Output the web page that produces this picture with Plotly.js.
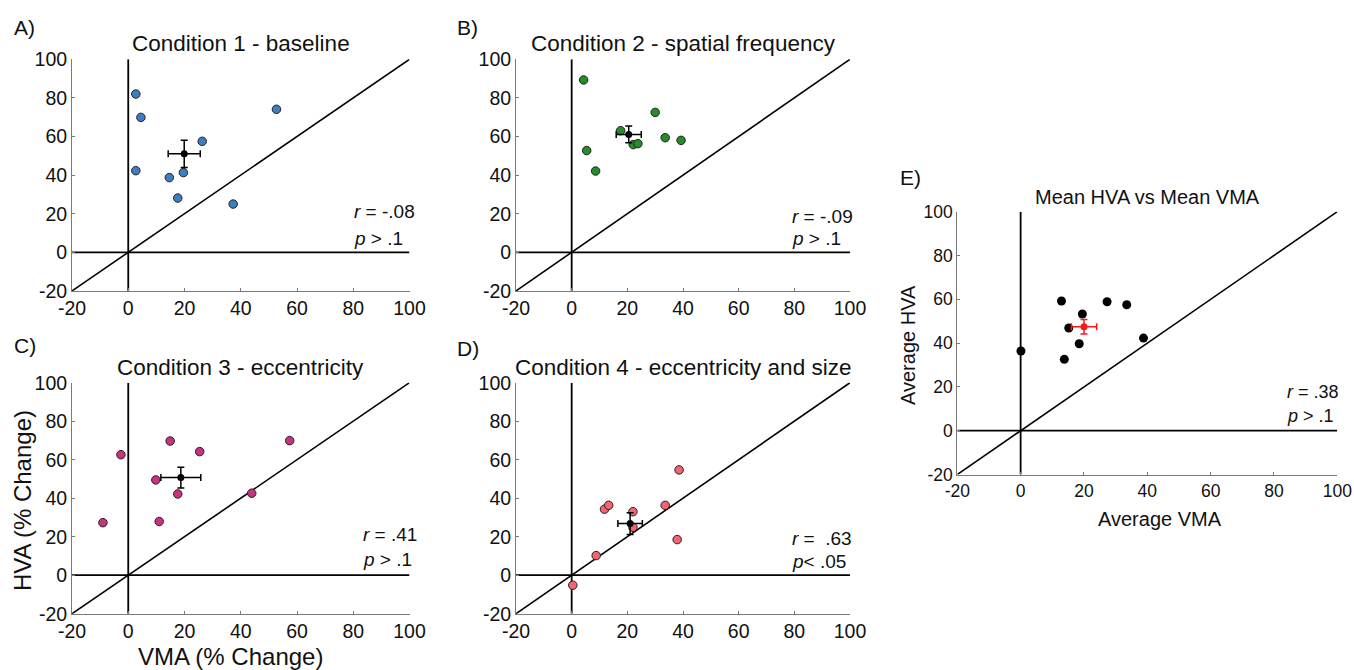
<!DOCTYPE html>
<html>
<head>
<meta charset="utf-8">
<script src="https://cdn.plot.ly/plotly-3.0.1.min.js"></script>
<style>html,body{margin:0;padding:0;background:#fff;}#chart{width:1354px;height:670px;}</style>
</head>
<body>
<div id="chart"></div>
<script>
// ---- Data ----
var tickVals = [-20, 0, 20, 40, 60, 80, 100];
var refLine = [-20, 100];
var zeroSpan = [0, 0];

// Condition 1 - baseline
var c1_vma = [2.7, 4.5, 2.7, 14.6, 17.6, 19.6, 26.3, 37.3, 52.7];
var c1_hva = [82.0, 69.9, 42.3, 38.7, 28.1, 41.3, 57.5, 25.0, 74.1];
var c1_mean = [19.9, 51.0];
var c1_err = [5.7, 7.0];

// Condition 2 - spatial frequency
var c2_vma = [4.3, 5.4, 8.6, 17.6, 22.1, 23.8, 30.0, 33.6, 39.3];
var c2_hva = [89.3, 52.7, 42.1, 63.0, 55.8, 56.3, 72.5, 59.4, 58.0];
var c2_mean = [20.5, 61.1];
var c2_err = [4.5, 4.4];

// Condition 3 - eccentricity
var c3_vma = [-9.0, -2.6, 9.8, 11.0, 14.9, 17.6, 25.4, 43.9, 57.4];
var c3_hva = [27.3, 62.6, 49.5, 27.9, 69.7, 42.2, 64.2, 42.6, 69.9];
var c3_mean = [18.7, 50.7];
var c3_err = [7.1, 5.4];

// Condition 4 - eccentricity and size
var c4_vma = [0.4, 8.8, 11.8, 13.3, 22.0, 22.0, 33.6, 37.9, 38.6];
var c4_hva = [-5.2, 10.2, 34.3, 36.3, 33.0, 24.9, 36.3, 18.5, 54.7];
var c4_mean = [21.0, 26.8];
var c4_err = [4.4, 5.7];

// Mean HVA vs Mean VMA
var e_vma = [0.1, 12.9, 13.8, 15.2, 18.5, 19.5, 27.3, 33.5, 38.8];
var e_hva = [36.4, 59.2, 32.6, 46.9, 39.7, 53.3, 58.9, 57.5, 42.3];
var e_mean = [20.0, 47.5];
var e_err = [4.0, 3.3];

var panelTitles = ["Condition 1 - baseline", "Condition 2 - spatial frequency",
  "Condition 3 - eccentricity", "Condition 4 - eccentricity and size", "Mean HVA vs Mean VMA"];
var panelLetters = ["A)", "B)", "C)", "D)", "E)"];
var statR = ["<i>r</i> = -.08", "<i>r</i> = -.09", "<i>r</i> = .41", "<i>r</i> =\u00a0 .63", "<i>r</i> = .38"];
var statP = ["<i>p</i> &gt; .1", "<i>p</i> &gt; .1", "<i>p</i> &gt; .1", "<i>p</i>&lt; .05", "<i>p</i> &gt; .1"];

// ---- Layout helpers ----
var W = 1354, H = 670;
function px(x){ return x / W; }
function py(y){ return 1 - y / H; }
var FONT = "Liberation Sans, Arial, Helvetica, sans-serif";

var panels = [
  {vx: c1_vma, hy: c1_hva, m: c1_mean, e: c1_err, color: "rgb(62,126,192)", x0: 72, x1: 409.5, y0: 59.3, y1: 290.9, ann: [79.5, 20.9, 6.9]},
  {vx: c2_vma, hy: c2_hva, m: c2_mean, e: c2_err, color: "rgb(38,140,42)", x0: 516, x1: 850, y0: 59.3, y1: 290.9, ann: [78.3, 18.8, 6.9]},
  {vx: c3_vma, hy: c3_hva, m: c3_mean, e: c3_err, color: "rgb(200,50,128)", x0: 72, x1: 409.5, y0: 382.7, y1: 613.7, ann: [82.8, 20.9, 7.9]},
  {vx: c4_vma, hy: c4_hva, m: c4_mean, e: c4_err, color: "rgb(245,100,112)", x0: 516, x1: 850, y0: 382.7, y1: 613.7, ann: [78.3, 19.2, 7.3]},
  {vx: e_vma, hy: e_hva, m: e_mean, e: e_err, color: "black", x0: 957.3, x1: 1337.3, y0: 211.7, y1: 474.5, ann: [83.6, 17.8, 6.8]}
];

var traces = [];
var layout = {
  width: W, height: H,
  margin: {l: 0, r: 0, t: 0, b: 0},
  paper_bgcolor: "white", plot_bgcolor: "white",
  showlegend: false,
  font: {family: FONT, color: "#111"},
  annotations: []
};

panels.forEach(function(p, i){
  var n = i + 1;
  var xa = "x" + (n === 1 ? "" : n), ya = "y" + (n === 1 ? "" : n);
  var isE = (i === 4);
  var tickSize = isE ? 17.5 : 19.5;
  var axBase = {
    range: [-20, 100], tickmode: "array", tickvals: tickVals, ticktext: tickVals.map(String),
    showgrid: false, zeroline: false, showline: true, linecolor: "#7a7a7a", linewidth: 1,
    ticks: "inside", ticklen: 3, tickcolor: "#7a7a7a", tickwidth: 1,
    tickfont: {family: FONT, size: tickSize, color: "#111"}, fixedrange: true
  };
  layout["xaxis" + (n === 1 ? "" : n)] = Object.assign({}, axBase, {domain: [px(p.x0), px(p.x1)], anchor: ya});
  layout["yaxis" + (n === 1 ? "" : n)] = Object.assign({}, axBase, {domain: [py(p.y1), py(p.y0)], anchor: xa});

  // identity line, zero lines
  traces.push({x: refLine, y: refLine, xaxis: xa, yaxis: ya, mode: "lines", line: {color: "black", width: 1.6}, hoverinfo: "skip"});
  traces.push({x: refLine, y: zeroSpan, xaxis: xa, yaxis: ya, mode: "lines", line: {color: "black", width: 1.8}, hoverinfo: "skip"});
  traces.push({x: zeroSpan, y: refLine, xaxis: xa, yaxis: ya, mode: "lines", line: {color: "black", width: 1.8}, hoverinfo: "skip"});

  // individual points
  traces.push({x: p.vx, y: p.hy, xaxis: xa, yaxis: ya, mode: "markers",
    marker: isE ? {color: "black", size: 9} : {color: p.color, size: 8.5, line: {color: "#222", width: 1}}});

  // mean with error bars
  var mc = isE ? "rgb(255,20,20)" : "black";
  traces.push({x: [p.m[0]], y: [p.m[1]], xaxis: xa, yaxis: ya, mode: "markers",
    marker: {color: mc, size: 7},
    error_x: {type: "data", array: [p.e[0]], color: mc, thickness: 1.5, width: 3.5},
    error_y: {type: "data", array: [p.e[1]], color: mc, thickness: 1.5, width: 3.5}});

  // stats text
  layout.annotations.push({xref: xa, yref: ya, x: p.ann[0], y: p.ann[1], text: statR[i], showarrow: false,
    xanchor: "left", yanchor: "middle", font: {family: FONT, size: isE ? 18 : 19, color: "#111"}});
  layout.annotations.push({xref: xa, yref: ya, x: p.ann[0], y: p.ann[2], text: statP[i], showarrow: false,
    xanchor: "left", yanchor: "middle", font: {family: FONT, size: isE ? 18 : 19, color: "#111"}});

  // panel title
  var titleY = isE ? 196.7 : (p.y0 - 15.5);
  layout.annotations.push({xref: "paper", yref: "paper", x: px((p.x0 + p.x1) / 2), y: py(titleY),
    text: panelTitles[i], showarrow: false, xanchor: "center", yanchor: "middle",
    font: {family: FONT, size: isE ? 20 : 22.5, color: "#111"}});
});

// panel letters
var letterPos = [[12, 27], [455, 27], [12, 345], [455, 348], [898, 178]];
letterPos.forEach(function(lp, i){
  layout.annotations.push({xref: "paper", yref: "paper", x: px(lp[0]), y: py(lp[1]), text: panelLetters[i],
    showarrow: false, xanchor: "left", yanchor: "middle", font: {family: FONT, size: 21, color: "#111"}});
});

// axis titles
layout.annotations.push({xref: "paper", yref: "paper", x: px(22), y: py(501), text: "HVA (% Change)",
  showarrow: false, textangle: -90, xanchor: "center", yanchor: "middle", font: {family: FONT, size: 24, color: "#111"}});
layout.annotations.push({xref: "paper", yref: "paper", x: px(230), y: py(656), text: "VMA (% Change)",
  showarrow: false, xanchor: "center", yanchor: "middle", font: {family: FONT, size: 24, color: "#111"}});
layout.annotations.push({xref: "paper", yref: "paper", x: px(908), y: py(345), text: "Average HVA",
  showarrow: false, textangle: -90, xanchor: "center", yanchor: "middle", font: {family: FONT, size: 20, color: "#111"}});
layout.annotations.push({xref: "paper", yref: "paper", x: px(1160), y: py(519), text: "Average VMA",
  showarrow: false, xanchor: "center", yanchor: "middle", font: {family: FONT, size: 20, color: "#111"}});

Plotly.newPlot("chart", traces, layout, {displayModeBar: false, staticPlot: true});
</script>
</body>
</html>
